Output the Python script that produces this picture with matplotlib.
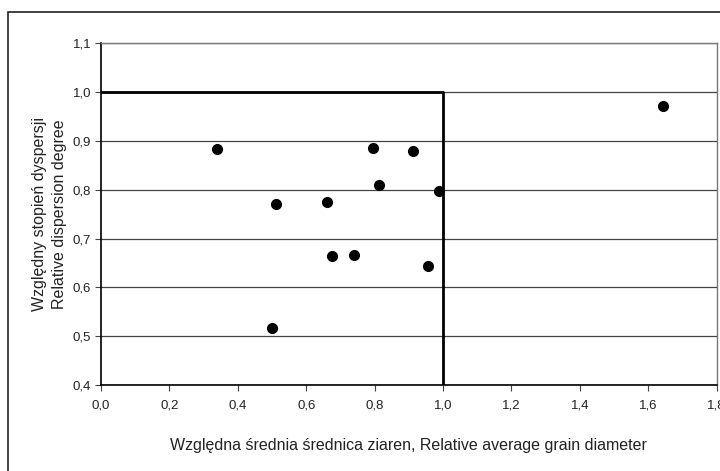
import matplotlib
matplotlib.use("Agg")
import matplotlib.pyplot as plt
from matplotlib.ticker import FuncFormatter, MultipleLocator
from matplotlib.patches import Rectangle

plt.rcParams['font.family'] = ['Liberation Sans', 'DejaVu Sans']

x_vals = [0.338, 0.512, 0.661, 0.794, 0.913, 0.812, 0.988, 1.642, 0.675, 0.741, 0.501, 0.955]
y_vals = [0.883, 0.770, 0.774, 0.885, 0.879, 0.810, 0.798, 0.972, 0.665, 0.667, 0.518, 0.643]
ref_x = [0.0, 1.0, 1.0]
ref_y = [1.0, 1.0, 0.4]
xlabel = "Względna średnia średnica ziaren, Relative average grain diameter"
ylabel = "Względny stopień dyspersji\nRelative dispersion degree"

fig = plt.figure(figsize=(7.2, 4.71), dpi=100)
ax = fig.add_axes([0.1403, 0.1820, 0.8551, 0.7267])

# outer frame
fig.patches.append(Rectangle((8/720, -0.05), 1.2, 1 - 12/471 + 0.05, transform=fig.transFigure,
                             fill=False, edgecolor='#222222', linewidth=1.2, clip_on=False))

ax.set_xlim(0, 1.8)
ax.set_ylim(0.4, 1.1)
ax.xaxis.set_major_locator(MultipleLocator(0.2))
ax.yaxis.set_major_locator(MultipleLocator(0.1))
fmt = FuncFormatter(lambda v, p: f"{v:.1f}".replace('.', ','))
ax.xaxis.set_major_formatter(fmt)
ax.yaxis.set_major_formatter(fmt)

ax.grid(axis='y', color='#444444', linewidth=0.9)
ax.set_axisbelow(True)

ax.plot(ref_x, ref_y, color='black', linewidth=2.0, zorder=3)
ax.plot(x_vals, y_vals, linestyle='none', marker='o', markersize=7, color='black', zorder=4, clip_on=False)

for s in ['left', 'bottom']:
    ax.spines[s].set_color('black')
    ax.spines[s].set_linewidth(1.2)
for s in ['top', 'right']:
    ax.spines[s].set_color('#777777')
    ax.spines[s].set_linewidth(1.0)

ax.tick_params(axis='both', labelsize=9.5, length=4, width=0.8, color='#444444', labelcolor='#222222')
ax.tick_params(axis='x', pad=6)
ax.tick_params(axis='y', pad=3)

ax.set_xlabel(xlabel, fontsize=11.5, labelpad=19, color='#222222')
ax.set_ylabel(ylabel, fontsize=11.5, labelpad=4, color='#222222', linespacing=1.45)

fig.savefig("out.png", dpi=100)
